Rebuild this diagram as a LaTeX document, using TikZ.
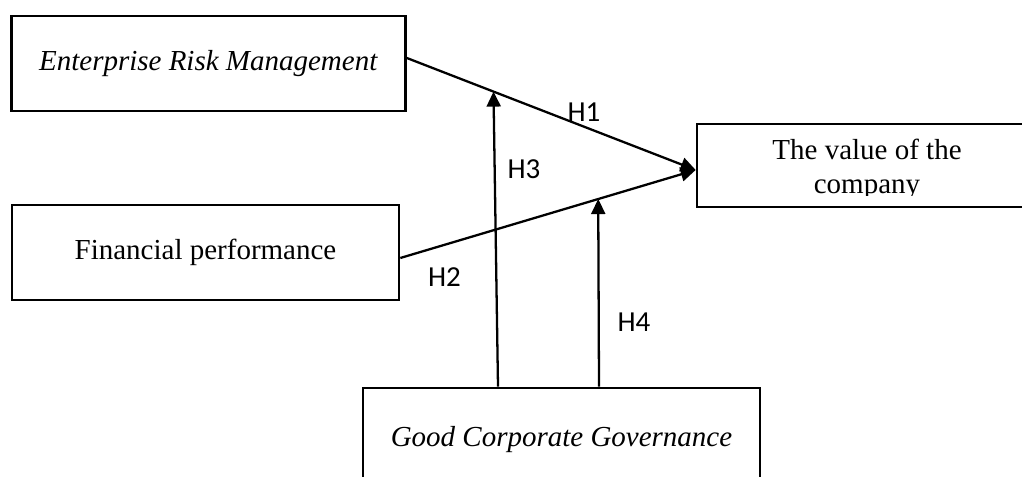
\documentclass[tikz,border=0pt]{standalone}
\usepackage{fontspec}
\setmainfont{Liberation Serif}
\newfontfamily\hypfont{Carlito}
\usetikzlibrary{arrows.meta}
\tikzstyle{arrow} = [line width=1.3pt, -{Triangle[length=0.3cm, width=0.28cm]}]
\tikzstyle{block} = [rectangle, line width=1.5pt, text centered, draw=black, font=\fontsize{16.5}{19.5}\selectfont]
\tikzstyle{hyp} = [inner sep=0pt, font=\hypfont\fontsize{16.5}{19.5}\selectfont]

\begin{document}
\begin{tikzpicture}
	\useasboundingbox (0,0) rectangle (20.44,9.54);
	\clip (0,0) rectangle (20.44,9.54);
		\node(erm) [block, minimum width=7.88cm, minimum height=1.9cm] at (4.17,8.27) {\textit{Enterprise Risk Management}};
		\node(fin) [block, minimum width=7.74cm, minimum height=1.9cm] at (4.11,4.49) {Financial performance};
		\node(gcg) [block, minimum width=7.94cm, minimum height=2.08cm] at (11.23,0.74) {\textit{Good Corporate Governance}};
		\node(val) [block, minimum width=6.8cm, minimum height=1.66cm] at (17.34,6.23) {};
		% the second line runs into the lower edge of the box
		\begin{scope}
			\clip ([yshift=0.26cm]val.south west) rectangle (val.north east);
			\node(valtext) [anchor=base, align=center, font=\fontsize{16.5}{19.4}\selectfont] at (17.34,5.66) {The value of the\\company};
		\end{scope}
		\draw [arrow] ([yshift=0.11cm]erm.east) -- coordinate[pos=0.3] (m1) ([yshift=-0.09cm]val.west);
		\draw [arrow] ([yshift=-0.11cm]fin.east) -- coordinate[pos=0.67] (m2) ([yshift=-0.09cm]val.west);
		\draw [arrow] ([xshift=-1.27cm]gcg.north) -- (m1);
		\draw [arrow] ([xshift=0.75cm]gcg.north) -- (m2);
		\node(h1) [hyp] at (11.68,7.29) {H1};
		\node(h2) [hyp] at (8.89,4.00) {H2};
		\node(h3) [hyp] at (10.48,6.15) {H3};
		\node(h4) [hyp] at (12.68,3.10) {H4};
	\end{tikzpicture}
\end{document}
